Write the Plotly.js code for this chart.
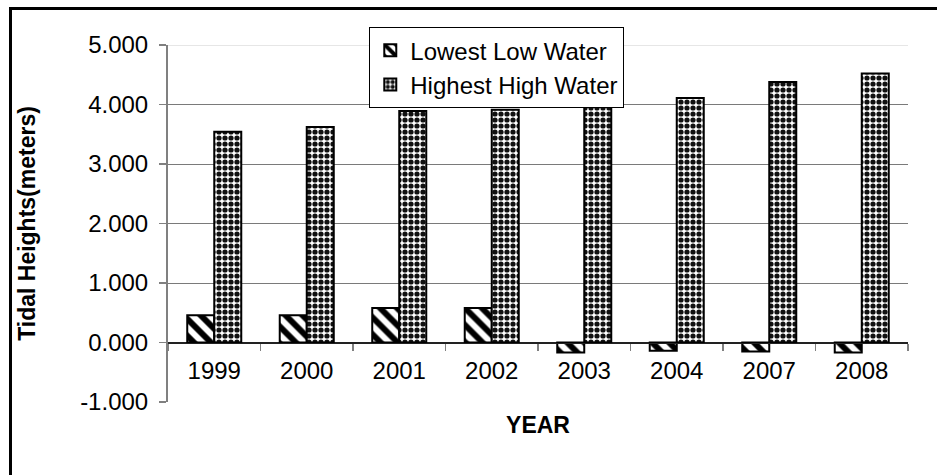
<!DOCTYPE html>
<html>
<head>
<meta charset="utf-8">
<script src="https://cdn.plot.ly/plotly-3.0.1.min.js"></script>
<style>
  html, body { margin: 0; padding: 0; background: #fff; }
  #chart { position: absolute; left: 0; top: 0; width: 937px; height: 475px; }
  #frame { position: absolute; left: 9px; top: 7px; width: 940px; height: 480px;
           border: 3px solid #000; pointer-events: none; box-sizing: border-box; }
</style>
</head>
<body>
<div id="chart"></div>
<div id="frame"></div>
<script>
// Annual tidal extremes (metres) per survey year
const years = ['1999', '2000', '2001', '2002', '2003', '2004', '2007', '2008'];
const lowestLowWater = [0.46, 0.46, 0.58, 0.58, -0.17, -0.14, -0.15, -0.17];
const highestHighWater = [3.54, 3.62, 3.89, 3.91, 4.06, 4.11, 4.38, 4.52];
const seriesNames = ['Lowest Low Water', 'Highest High Water'];
const yTicks = [-1, 0, 1, 2, 3, 4, 5];
// plain hyphen for negatives, three decimals
const yTickText = yTicks.map(v => v.toFixed(3));

const FONT = 'Liberation Sans, Arial, sans-serif';

const traces = [
  {
    type: 'bar', name: seriesNames[0], x: years, y: lowestLowWater,
    marker: {
      color: '#ffffff',
      line: { color: '#000', width: 2 },
      pattern: { shape: '\\', fgcolor: '#000', bgcolor: '#fff', size: 12, solidity: 0.5 }
    }
  },
  {
    type: 'bar', name: seriesNames[1], x: years, y: highestHighWater,
    marker: {
      color: '#ffffff',
      line: { color: '#000', width: 2 },
      pattern: { shape: '.', fgcolor: '#111', bgcolor: '#fff', size: 6, solidity: 0.6 }
    }
  }
];

const layout = {
  width: 937, height: 475,
  margin: { l: 168, r: 29, t: 45, b: 73 },
  paper_bgcolor: '#fff', plot_bgcolor: '#fff',
  font: { family: FONT, size: 24, color: '#000' },
  barmode: 'group', bargap: 0.416, bargroupgap: 0,
  showlegend: true,
  legend: {
    x: 0.272, y: 1.05, xanchor: 'left', yanchor: 'top',
    bgcolor: '#fff', bordercolor: '#000', borderwidth: 1,
    font: { family: FONT, size: 24 }, traceorder: 'normal',
    itemwidth: 30
  },
  xaxis: {
    type: 'category', anchor: 'free', position: 0.1665,
    showline: true, linecolor: '#222', linewidth: 1.5,
    ticks: 'outside', tickson: 'boundaries', ticklen: 7, tickcolor: '#808080', tickwidth: 1.5,
    ticklabelstandoff: 6,
    showgrid: false, zeroline: false,
    tickfont: { family: FONT, size: 24 },
    title: { text: 'YEAR', font: { family: FONT, size: 23, weight: 'bold' }, standoff: 34 }
  },
  yaxis: {
    range: [-1, 5], tickvals: yTicks, ticktext: yTickText,
    showline: true, linecolor: '#808080', linewidth: 2,
    ticks: 'outside', ticklen: 7, tickcolor: '#808080', tickwidth: 1.5,
    ticklabelstandoff: 6,
    showgrid: true, gridcolor: '#7a7a7a', gridwidth: 1,
    zeroline: true, zerolinecolor: '#222', zerolinewidth: 1.5,
    tickfont: { family: FONT, size: 24 },
    title: { text: 'Tidal Heights(meters)', font: { family: FONT, size: 23, weight: 'bold' }, standoff: 38 }
  },
  shapes: [
    { type: 'line', xref: 'paper', yref: 'y', x0: 0, x1: 1, y0: 5, y1: 5,
      line: { color: '#e6e6e6', width: 2 }, layer: 'above' }
  ]
};

Plotly.newPlot('chart', traces, layout, { displayModeBar: false, staticPlot: true });
</script>
</body>
</html>
